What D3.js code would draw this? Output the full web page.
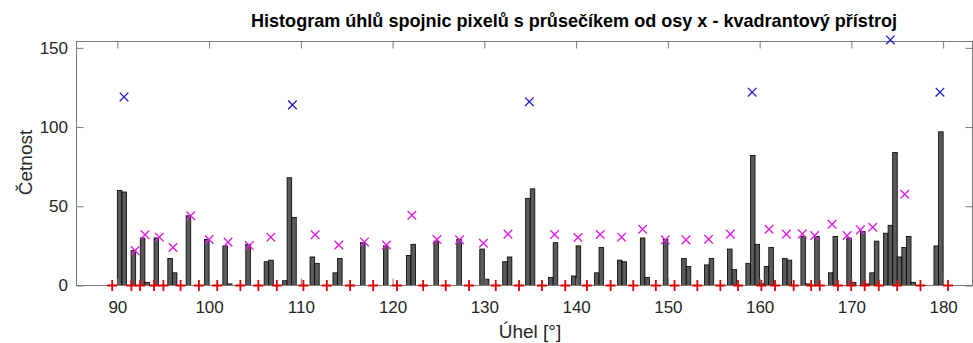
<!DOCTYPE html>
<html><head><meta charset="utf-8">
<script src="https://cdn.jsdelivr.net/npm/d3@7/dist/d3.min.js"></script>
<style>body{margin:0;background:#fff}svg{display:block}</style>
</head><body><svg id="chart" width="973" height="343"></svg>
<script>
// ---- data ----
const binStarts = [90.0,90.5,91.5,92.5,93.0,94.0,95.5,96.0,97.5,99.5,101.5,102.0,104.0,106.0,106.5,108.0,108.5,109.0,111.0,111.5,113.5,114.0,116.5,119.0,121.5,122.0,124.5,127.0,129.5,130.0,132.0,132.5,134.5,135.0,137.0,137.5,139.5,140.0,142.0,142.5,144.5,145.0,147.0,147.5,149.5,151.5,152.0,154.0,154.5,156.5,157.0,158.5,159.0,159.5,160.0,160.5,161.0,162.5,163.0,164.5,165.0,166.0,167.5,168.0,169.5,170.0,171.0,171.5,172.0,172.5,173.5,174.0,174.5,175.0,175.5,176.0,176.5,179.0,179.5];
const binCounts = [60,59,22,30,2,30,17,8,44,29,25,1,26,15,16,3,68,43,18,14,8,17,27,25,19,26,28,29,23,4,15,18,55,61,5,27,6,25,8,24,16,15,30,5,29,17,12,13,17,23,10,14,82,26,1,12,24,17,16,31,1,31,8,31,30,2,34,1,8,28,33,38,84,18,24,31,2,25,97];
const binWidth = 0.5;

const majorPeakAngles = [90.73,109.08,134.9,159.19,174.25,179.65];
const majorPeakSums   = [119,114,116,122,155,122];

const minorPeakAngles = [91.93,93.02,94.58,96.07,98.0,100.0,102.07,104.39,106.73,111.56,114.14,116.93,119.33,122.1,124.83,127.29,129.9,132.57,137.65,140.2,142.63,144.96,147.25,149.72,151.98,154.44,156.81,161.03,162.91,164.66,166.0,167.9,169.53,170.98,172.33,175.82];
const minorPeakSums   = [22,32,30.5,24,44,29,27.4,25.2,30.5,32,25.6,27.5,25.6,44.3,29,28.8,26.7,32.4,32.2,30.3,32.2,30.5,35.5,28.8,28.8,29.2,32.4,35.5,32.4,32.6,31.5,38.7,31.5,35.1,36.8,57.6];

const boundaryAngles = [89.44,91.53,92.48,94.0,95.02,96.89,98.89,100.89,103.41,105.37,107.38,110.28,112.83,115.37,117.88,120.47,123.33,125.79,128.33,131.24,133.78,136.28,138.82,141.18,143.76,146.23,148.69,150.73,153.21,155.72,157.65,160.19,161.68,163.71,165.62,166.55,168.53,169.98,171.45,172.98,174.99,177.53,180.53];

const xTicks = [90,100,110,120,130,140,150,160,170,180];
const yTicks = [0,50,100,150];
const titleText = "Histogram úhlů spojnic pixelů s průsečíkem od osy x - kvadrantový přístroj";
const xLabelText = "Úhel [°]";
const yLabelText = "Četnost";

// ---- layout ----
const L = 76.5, R = 972.5, T = 41.5, B = 285.5;
const svg = d3.select("#chart");
const font = "'Liberation Sans', Arial, Helvetica, sans-serif";
const textCol = "#262626";
const axisCol = "#7a7a7a";

const x = d3.scaleLinear().domain([85.55, 183.2]).range([L, R]);
const y = d3.scaleLinear().domain([0, 154]).range([B, T]);

// bars
const bins = binStarts.map((s, i) => ({s, c: binCounts[i]}));
svg.append("g").selectAll("rect").data(bins).join("rect")
  .attr("x", d => x(d.s))
  .attr("width", d => x(d.s + binWidth) - x(d.s))
  .attr("y", d => y(d.c))
  .attr("height", d => y(0) - y(d.c))
  .attr("fill", "#5a5a5a")
  .attr("stroke", "#000")
  .attr("stroke-width", 0.8);

// axes
function styleAxis(g, labels) {
  g.select(".domain").remove();
  g.selectAll(".tick line").attr("stroke", axisCol).attr("stroke-width", 1);
  g.selectAll(".tick text").attr("fill", textCol).style("font-family", font).style("font-size", "17px");
  if (!labels) g.selectAll(".tick text").remove();
}
svg.append("g").attr("transform", `translate(0,${B})`)
  .call(d3.axisBottom(x).tickValues(xTicks).tickSize(-7).tickPadding(15).tickFormat(d3.format("d")))
  .call(g => styleAxis(g, true));
svg.append("g").attr("transform", `translate(0,${T})`)
  .call(d3.axisTop(x).tickValues(xTicks).tickSize(-7))
  .call(g => styleAxis(g, false));
svg.append("g").attr("transform", `translate(${L},0)`)
  .call(d3.axisLeft(y).tickValues(yTicks).tickSize(-7).tickPadding(8.5).tickFormat(d3.format("d")))
  .call(g => styleAxis(g, true));
svg.append("g").attr("transform", `translate(${R},0)`)
  .call(d3.axisRight(y).tickValues(yTicks).tickSize(-7))
  .call(g => styleAxis(g, false));

// box
svg.append("rect").attr("x", L).attr("y", T).attr("width", R - L).attr("height", B - T)
  .attr("fill", "none").attr("stroke", axisCol).attr("stroke-width", 1);

// cross markers
function crossPath(cx, cy, r) {
  return `M${cx - r},${cy - r}L${cx + r},${cy + r}M${cx - r},${cy + r}L${cx + r},${cy - r}`;
}
svg.append("g").selectAll("path").data(minorPeakAngles.map((a, i) => [a, minorPeakSums[i]])).join("path")
  .attr("d", d => crossPath(x(d[0]), y(d[1]), 4.3))
  .attr("stroke", "#e020e0").attr("stroke-width", 1.4).attr("fill", "none");
svg.append("g").selectAll("path").data(majorPeakAngles.map((a, i) => [a, majorPeakSums[i]])).join("path")
  .attr("d", d => crossPath(x(d[0]), y(d[1]), 4.3))
  .attr("stroke", "#1c1cc8").attr("stroke-width", 1.3).attr("fill", "none");

// plus markers on the baseline
svg.append("g").selectAll("path").data(boundaryAngles).join("path")
  .attr("d", d => `M${x(d) - 5},${y(0)}L${x(d) + 5},${y(0)}M${x(d)},${y(0) - 5.5}L${x(d)},${y(0) + 5.5}`)
  .attr("stroke", "#e00000").attr("stroke-width", 1.8).attr("fill", "none");

// texts
svg.append("text").attr("x", 574).attr("y", 26.5).attr("text-anchor", "middle")
  .attr("textLength", 646).attr("lengthAdjust", "spacingAndGlyphs")
  .style("font-family", font).style("font-weight", "bold").style("font-size", "19px")
  .attr("fill", "#000").text(titleText);
svg.append("text").attr("x", 530).attr("y", 338).attr("text-anchor", "middle")
  .style("font-family", font).style("font-size", "19px").attr("fill", textCol).text(xLabelText);
svg.append("text").attr("transform", "translate(31.5,162.5) rotate(-90)").attr("text-anchor", "middle")
  .style("font-family", font).style("font-size", "19px").attr("fill", textCol).text(yLabelText);
</script></body></html>
